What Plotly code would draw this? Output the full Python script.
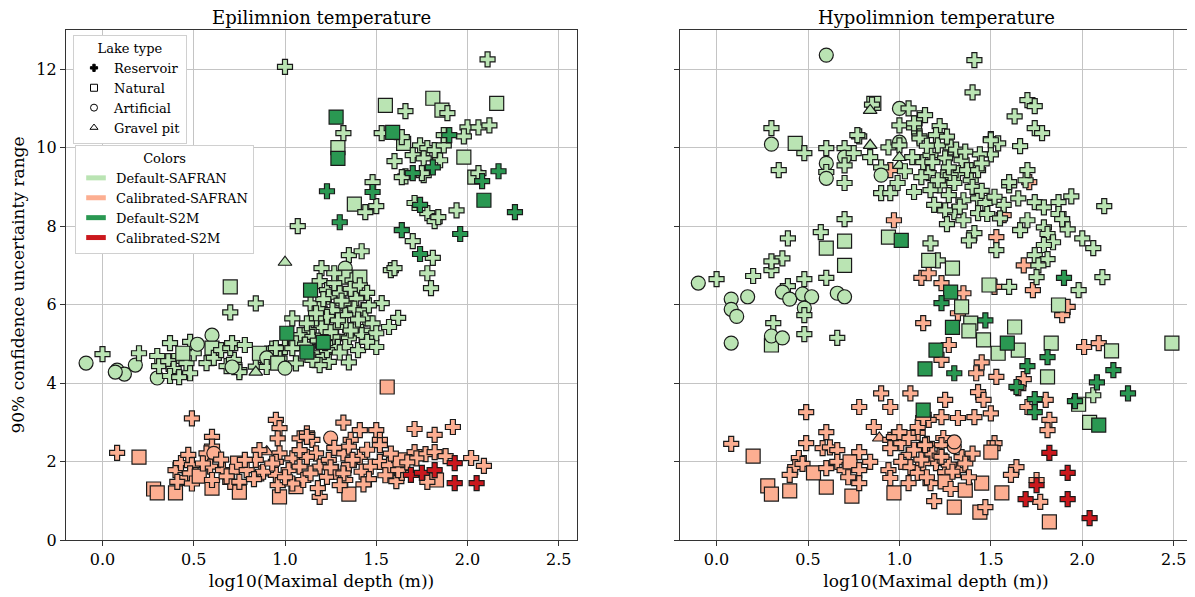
import plotly.graph_objects as go

# ---------------- DATA ----------------
# Lake type codes: R=Reservoir, N=Natural, A=Artificial, G=Gravel pit
lake_types = ["Reservoir", "Natural", "Artificial", "Gravel pit"]
color_groups = ["Default-SAFRAN", "Calibrated-SAFRAN", "Default-S2M", "Calibrated-S2M"]
x_ticks = [0.0, 0.5, 1.0, 1.5, 2.0, 2.5]
y_ticks = [0, 2, 4, 6, 8, 10, 12]

# ---- Epilimnion: Default-SAFRAN ----
epi_dsaf_x = [1.00, 1.32, 1.29, 1.38, 1.07, 1.00, 0.70, 0.84, 0.70, 1.35,
              1.20, 1.33, 1.33, 1.37, 2.11, 1.55, 1.81, 1.86, 1.89, 1.66,
              2.16, 1.53, 1.65, 1.64, 1.74, 1.78, 1.70, 1.76, 1.85, 1.82,
              1.87, 2.00, 2.06, 2.12, 1.98, 1.87, 1.98, 1.60, 1.66, 1.76,
              2.04, 2.06, 1.44, 1.50, 1.48, 1.71, 1.78, 1.82, 1.84, 1.94,
              1.70, 1.81, 1.78, 1.80, 1.58, 1.60, 1.42, 1.41, 1.53, 1.62,
              1.19, 1.57, 1.46, 1.50, 1.35, 1.64, 1.75,
              1.23, 1.24, 1.14, 1.19, 1.30, 1.32, 1.39, 1.38, 1.26, 1.23,
              1.33, 1.43, 1.44, 1.33, 1.28, 1.39, 1.48, 1.42, 1.34, 1.24,
              1.29, 1.20, 1.13, 1.17, 1.08, 1.04, 1.15, 1.21, 1.24, 1.19,
              1.06, 0.97, 0.93, 1.00, 0.88, 0.84, 1.50, 1.06, 1.15, 1.26,
              1.35, 1.23, 1.33, 1.15,
              1.27, 1.36, 1.31, 1.21, 1.17, 1.29, 1.40, 1.36, 1.25, 1.11,
              1.18, 1.30, 1.40, 1.45, 1.12, 1.46, 1.41, 1.27, 1.45, 1.22,
              -0.09, 0.00, 0.08, 0.12, 0.07, 0.18, 0.20, 0.30, 0.30, 0.31,
              0.36, 0.39, 0.42, 0.46, 0.48, 0.50, 0.37, 0.42, 0.37, 0.48,
              0.52, 0.60, 0.60, 0.44, 0.57, 0.61, 0.65, 0.68, 0.72, 0.75,
              0.70, 0.71, 0.78, 0.75, 0.71, 0.86, 0.84, 0.90, 0.90, 0.95,
              0.96, 1.00, 1.04]
epi_dsaf_y = [12.06, 10.37, 10.00, 8.56, 8.00, 7.08, 6.45, 6.03, 5.80, 7.26,
              6.93, 6.93, 6.70, 6.62, 12.25, 11.08, 11.26, 10.96, 10.88, 10.93,
              11.13, 10.37, 10.11, 10.27, 10.06, 9.99, 9.81, 9.73, 9.68, 9.94,
              10.06, 10.52, 10.52, 10.57, 10.29, 10.32, 9.76, 9.66, 9.27, 9.30,
              9.25, 9.35, 8.36, 8.51, 9.12, 8.59, 8.33, 8.13, 8.23, 8.40,
              7.62, 7.19, 6.80, 6.42, 6.88, 6.93, 7.36, 6.70, 6.04, 5.66,
              6.60, 5.43, 5.22, 4.92, 4.53, 9.25, 9.35,
              6.37, 6.20, 6.03, 5.90, 6.29, 6.03, 6.16, 5.90, 5.86, 5.69,
              5.73, 5.86, 5.65, 5.48, 5.43, 5.43, 5.52, 5.22, 5.18, 4.92,
              4.92, 5.43, 5.35, 5.65, 5.22, 5.65, 4.76, 4.67, 4.54, 4.46,
              4.50, 4.63, 4.88, 4.92, 4.59, 4.42, 5.27, 5.01, 5.18, 5.18,
              5.14, 4.84, 4.92, 4.59,
              6.55, 6.40, 6.10, 6.14, 5.78, 5.60, 5.62, 5.34, 5.30, 4.98,
              5.08, 4.78, 4.84, 5.05, 5.52, 5.98, 6.49, 6.80, 6.30, 5.02,
              4.51, 4.74, 4.33, 4.23, 4.28, 4.46, 4.76, 4.13, 4.69, 4.43,
              4.56, 4.36, 4.69, 4.51, 4.25, 4.76, 4.18, 4.15, 5.02, 5.05,
              4.99, 5.22, 4.89, 4.76, 4.51, 4.64, 4.84, 4.43, 4.59, 4.33,
              4.89, 5.02, 4.97, 4.28, 4.41, 4.76, 4.28, 4.64, 4.41, 4.89,
              4.51, 4.38, 4.89]
epi_dsaf_t = list("RRNNRGNRRR" "RANRRNNNRR" "NRNRRRRRRR" "RRRRRRNRRR"
                  "NRRRRRRRRR" "RRRRRRRNRR" "RRNRRRR"
                  "RRRRRRRRRR" "RRRRRRRRRR" "RRRRRRRRRR" "RRRRRRRRRR" "RRRR"
                  "RRRRRRRRRR" "RRRRRRRRRR"
                  "ARAAAARARR" "RRRRRRRRRR" "AANNRRRRRR" "RRRRANGARR" "NAR")

# ---- Epilimnion: Default-S2M ----
epi_ds2m_x = [1.28, 1.29, 1.23, 1.30, 1.14, 1.59, 1.90, 1.81, 1.70, 2.17,
              2.08, 1.48, 1.74, 2.09, 2.26, 1.64, 1.96, 1.74, 1.01, 1.21, 1.12]
epi_ds2m_y = [10.78, 9.73, 8.89, 8.10, 6.37, 10.39, 10.32, 9.50, 9.35, 9.40,
              9.15, 8.87, 8.54, 8.66, 8.36, 7.90, 7.80, 7.29, 5.27, 5.04, 4.79]
epi_ds2m_t = list("NNRRNNRRRR" "RRRNRRRRNNN")

# ---- Epilimnion: Calibrated-SAFRAN ----
epi_csaf_x = [0.08, 0.20, 0.28, 0.30, 0.40, 0.49, 0.40, 0.43, 0.47, 0.49,
              0.51, 0.45, 0.41, 0.48, 0.49, 0.53, 0.60, 0.60, 0.57, 0.61,
              0.60, 0.74, 0.75, 0.95, 0.97, 0.96, 0.97, 0.90, 1.32, 1.06,
              1.25, 1.35, 1.56, 1.41, 1.50, 1.52, 1.52, 1.36, 1.71, 1.82,
              1.92, 1.71, 1.77, 1.82, 1.88, 2.02, 2.09, 1.61, 1.64, 1.83,
              1.78, 1.19, 1.08, 1.12, 1.15, 0.86, 0.84, 0.87, 0.97, 0.95,
              0.95, 0.96, 1.04, 1.02, 1.08, 1.10, 1.17, 1.19, 1.18, 1.24,
              1.23, 1.28, 1.32, 1.35, 1.33, 1.41, 1.42, 1.47, 1.52, 1.57,
              1.62, 1.72, 0.59, 0.60, 0.66, 0.71, 0.70, 0.75, 0.79, 0.78,
              0.88, 0.93, 1.12, 1.12, 1.04, 1.08, 1.32, 1.35, 1.37, 1.63,
              1.27, 1.45, 1.55, 1.46, 1.25, 1.00, 0.65, 0.55, 1.58, 1.67,
              1.14, 1.43, 1.30, 0.83, 0.68]
epi_csaf_y = [2.22, 2.11, 1.30, 1.20, 1.20, 3.10, 1.78, 1.96, 2.17, 1.91,
              1.66, 1.58, 1.48, 1.70, 1.44, 1.63, 2.63, 2.38, 2.21, 2.21,
              1.32, 1.96, 1.22, 3.06, 2.85, 2.59, 1.10, 2.25, 2.99, 1.36,
              2.60, 1.17, 3.90, 2.80, 2.80, 2.55, 2.42, 2.55, 2.83, 2.68,
              2.88, 2.24, 2.19, 2.24, 2.14, 2.09, 1.89, 1.50, 1.71, 1.53,
              1.48, 1.10, 2.59, 2.72, 2.55, 2.29, 2.04, 1.70, 2.21, 1.99,
              1.66, 1.40, 2.08, 1.78, 1.87, 1.53, 2.21, 1.87, 1.32, 2.04,
              1.61, 1.74, 2.21, 1.91, 1.53, 2.12, 1.74, 1.87, 1.99, 1.91,
              1.78, 2.08, 1.87, 1.53, 1.78, 1.74, 1.48, 1.48, 1.78, 2.04,
              1.74, 1.95, 2.12, 2.63, 1.44, 2.29, 1.70, 2.38, 2.04, 2.04,
              2.35, 2.30, 1.65, 1.55, 1.85, 1.60, 2.05, 1.95, 2.20, 1.98,
              1.70, 1.42, 1.40, 1.55, 1.62]
epi_csaf_t = list("RNNNNRRRRR" "RRRRRNRRRA" "NNNRRRNGRN" "ANNRRRRRRR"
                  "RRRRRRRRRN" "RRRRRRRRRR" "RRRRRRRRRR" "RRRRRRRRRR"
                  "RRRRRRRRRR" "RRRRRRRRRN" "RRRRRRRRRR" "RRRRR")

# ---- Epilimnion: Calibrated-S2M ----
epi_cs2m_x = [1.69, 1.75, 1.82, 1.93, 1.93, 2.05]
epi_cs2m_y = [1.66, 1.71, 1.78, 1.96, 1.45, 1.45]
epi_cs2m_t = list("RRRRRR")

# ---- Hypolimnion: Default-SAFRAN ----
hyp_dsaf_x = [0.60, 0.86, 0.85, 0.84, 1.00, 1.05, 1.11, 1.14, 1.00, 1.08,
              1.11, 0.30, 0.30, 0.43, 0.48, 0.34, 0.60, 0.60, 0.60, 0.60,
              0.70, 0.70, 0.70, 0.70, 0.75, 0.78, 0.84, 0.84, 0.94, 1.00,
              1.00, 1.00, 1.00, 0.90, 0.90, 0.99, 0.90, 0.95, 1.08, 1.07,
              1.13, 0.70, 0.57, 0.39, 0.70, 0.60, 0.70, 0.94, 0.36, 0.30,
              0.30, 0.20, 0.00, -0.10, 0.08, 0.08, 0.11, 0.17, 0.48, 0.39,
              0.36, 0.40, 0.47, 0.52, 0.60, 0.66, 0.70, 0.48, 0.48, 0.31,
              0.08, 0.30, 0.30, 0.36, 0.48, 0.66, 1.41, 1.40, 1.70, 1.74,
              1.63, 1.74, 1.78, 1.66, 1.50, 1.54, 1.50, 1.44, 1.22, 1.20,
              1.28, 1.17, 1.25, 1.34, 1.39, 1.16, 1.24, 1.32, 1.39, 1.22,
              1.17, 1.27, 1.35, 1.19, 1.30, 1.35, 1.41, 1.08, 0.77, 1.11,
              1.21, 1.18, 1.37, 1.43, 1.21, 1.28, 1.50, 1.69, 1.60, 1.65,
              1.43, 1.47, 1.43, 1.57, 1.38, 1.66, 1.74, 1.79, 1.79, 1.17,
              1.21, 1.16, 1.29, 1.49, 1.60, 1.34, 1.39, 1.63, 1.70, 1.60,
              1.87, 1.94, 2.12, 1.48, 1.70, 1.81, 1.87, 1.89, 1.92, 1.84,
              1.79, 1.74, 1.81, 1.76, 2.00, 2.06, 1.75, 2.11, 1.98, 1.53,
              1.87, 1.83, 2.16, 2.49, 1.81, 1.46, 1.54, 1.65, 2.06, 1.98,
              2.04, 1.38, 1.26, 1.31, 1.36, 1.15, 1.27, 1.45, 1.30, 1.40,
              1.45, 1.25, 1.33, 1.52, 1.55, 1.26, 1.12, 1.03]
hyp_dsaf_y = [12.36, 11.13, 11.10, 10.95, 11.00, 11.00, 10.75, 10.83, 10.57, 10.52,
              10.29, 10.50, 10.09, 10.11, 9.86, 9.43, 9.99, 9.60, 9.38, 9.22,
              9.99, 9.76, 9.55, 9.10, 9.86, 10.29, 10.06, 9.76, 10.01, 10.14,
              10.06, 9.55, 9.75, 9.50, 9.30, 9.10, 8.84, 8.84, 8.87, 9.76,
              9.63, 8.18, 7.85, 7.69, 7.62, 7.44, 7.00, 7.72, 7.18, 6.88,
              7.10, 6.73, 6.65, 6.55, 6.14, 5.88, 5.70, 6.20, 6.65, 6.47,
              6.32, 6.14, 6.27, 6.20, 6.68, 6.29, 6.20, 5.91, 5.73, 5.53,
              5.02, 4.97, 5.20, 5.15, 5.25, 5.15, 12.23, 11.41, 11.21, 11.06,
              10.80, 10.50, 10.37, 10.04, 10.22, 10.11, 9.83, 9.83, 10.55, 10.32,
              10.01, 9.81, 9.73, 9.68, 9.43, 9.35, 9.25, 9.35, 9.17, 9.04,
              8.92, 8.79, 8.66, 8.54, 8.36, 8.15, 7.82, 10.62, 10.32, 10.24,
              10.06, 9.63, 9.43, 9.43, 9.17, 9.30, 10.19, 9.17, 9.04, 8.71,
              8.71, 8.59, 8.33, 8.54, 7.64, 7.90, 8.61, 8.48, 7.97, 7.56,
              7.13, 7.13, 6.93, 6.50, 6.45, 5.94, 5.53, 5.43, 9.43, 9.12,
              8.61, 8.76, 8.51, 8.31, 8.15, 7.80, 8.31, 8.18, 7.92, 7.59,
              7.52, 7.26, 7.16, 7.00, 7.69, 7.44, 6.70, 6.70, 6.37, 7.39,
              5.99, 5.02, 4.82, 5.02, 4.16, 5.10, 4.76, 4.84, 3.69, 3.46,
              3.00, 5.33, 10.28, 9.95, 9.90, 10.05, 9.50, 9.60, 9.10, 9.00,
              8.90, 8.40, 8.50, 8.75, 8.20, 8.05, 9.25, 9.40]
hyp_dsaf_t = list("ANRGARRRRR" "RRANRRRARA" "RARRRRGRRA" "RGGRARRRRR"
                  "RRRRNNNNRR" "RRRAAAAARR" "AAAARAAARR" "ANAARRRRRR"
                  "RRRRRRRRRR" "RRRRRRRRRR" "RRRRRRRRRR" "RRRRRRRRRR"
                  "RRRRRRRRRR" "RNNNRNNNRR" "RRRRRRRRRR" "RRRRRRRRRR"
                  "NNNNNNNNRN" "NNRRRRRRRR" "RRRRRRRR")

# ---- Hypolimnion: Default-S2M ----
hyp_ds2m_x = [1.01, 1.28, 1.23, 1.47, 1.29, 1.20, 1.14, 1.59, 1.81, 1.70,
              1.30, 2.17, 2.08, 1.64, 2.25, 1.74, 1.74, 1.96, 2.09, 1.13, 1.90]
hyp_ds2m_y = [7.64, 6.32, 6.04, 5.60, 5.42, 4.84, 4.36, 5.02, 4.66, 4.43,
              4.25, 4.33, 4.02, 3.90, 3.74, 3.59, 3.26, 3.54, 2.93, 3.31, 6.68]
hyp_ds2m_t = list("NNRRNNNNRR" "RRRRRRRRNNR")

# ---- Hypolimnion: Calibrated-SAFRAN ----
hyp_csaf_x = [0.95, 1.71, 1.57, 0.97, 1.53, 1.68, 1.73, 1.12, 1.16, 1.23,
              1.35, 1.52, 1.32, 1.13, 1.92, 1.89, 2.01, 2.09, 1.27, 1.23,
              1.45, 1.42, 1.53, 1.68, 1.65, 1.70, 1.80, 1.82, 1.81, 1.43,
              1.46, 1.25, 1.50, 1.41, 1.32, 1.23, 1.16, 1.24, 1.23, 1.34,
              1.30, 1.30, 1.20, 1.52, 1.51, 1.50, 1.25, 1.32, 1.17, 1.25,
              1.36, 1.45, 1.56, 1.30, 1.19, 1.44, 1.47, 1.64, 1.61, 1.75,
              1.77, 1.82, 0.08, 0.20, 0.28, 0.30, 0.40, 0.49, 0.49, 0.45,
              0.43, 0.40, 0.47, 0.53, 0.60, 0.58, 0.62, 0.60, 0.60, 0.66,
              0.66, 0.70, 0.72, 0.73, 0.74, 0.78, 0.78, 0.78, 0.78, 0.84,
              0.86, 0.90, 0.95, 1.06, 0.89, 0.95, 0.97, 0.95, 1.01, 1.05,
              1.01, 0.94, 0.95, 1.06, 1.10, 1.10, 1.13, 1.10, 1.13, 0.97,
              1.05, 1.08, 1.15, 1.18, 1.12, 1.22, 1.27, 1.15, 1.05, 1.36,
              1.40, 1.38, 1.28, 1.00, 1.14, 1.23, 1.29]
hyp_csaf_y = [9.43, 9.12, 8.28, 8.15, 7.72, 7.00, 6.37, 6.68, 6.80, 6.55,
              6.29, 6.45, 5.78, 5.53, 5.94, 5.73, 4.92, 5.02, 4.97, 4.59,
              4.53, 4.25, 4.16, 4.10, 3.87, 3.39, 3.57, 3.06, 2.80, 3.77,
              3.57, 3.57, 3.23, 3.13, 3.11, 3.13, 3.06, 2.60, 2.42, 2.11,
              2.38, 2.50, 1.96, 2.47, 2.34, 2.24, 1.73, 1.78, 1.45, 1.48,
              1.27, 1.45, 1.20, 0.84, 0.99, 0.71, 0.84, 1.86, 1.66, 1.53,
              0.97, 0.46, 2.45, 2.14, 1.38, 1.17, 1.25, 3.26, 2.47, 2.09,
              1.86, 1.66, 1.94, 1.71, 2.75, 2.34, 2.36, 1.83, 1.35, 2.29,
              1.99, 1.78, 1.60, 1.99, 1.12, 3.39, 2.24, 1.78, 1.45, 1.99,
              2.88, 3.74, 3.39, 3.74, 2.60, 2.55, 2.62, 2.34, 2.47, 2.17,
              1.99, 1.78, 1.58, 1.86, 2.73, 2.88, 3.11, 1.71, 1.96, 1.20,
              2.60, 2.30, 2.45, 2.20, 2.05, 2.15, 1.92, 1.60, 1.45, 1.95,
              2.20, 1.60, 1.30, 2.75, 2.42, 2.12, 1.74]
hyp_csaf_t = list("RRRRRRRRRR" "RRRRRRRRRR" "RRRRRRRRRR" "RRRRRRRRRR"
                  "AARRRNRRRN" "NNNNRNRRRR" "RNRNNNNRRR" "RRRNRRRRNR"
                  "RRRNNRRRRR" "RRRRGRRRRR" "RRRRRRRRRN" "RRRRRRRRRR"
                  "RRRRRRR")

# ---- Hypolimnion: Calibrated-S2M ----
hyp_cs2m_x = [1.82, 1.92, 1.75, 1.69, 1.92, 2.04]
hyp_cs2m_y = [2.22, 1.71, 1.40, 1.04, 1.04, 0.56]
hyp_cs2m_t = list("RRRRRR")

# ---------------- STYLE ----------------
COLORS = {"Default-SAFRAN": "#bae4b3", "Calibrated-SAFRAN": "#fcae91",
          "Default-S2M": "#2a9852", "Calibrated-S2M": "#cb181d"}
SYMBOL = {"R": "cross", "N": "square", "A": "circle", "G": "triangle-up"}
SIZE = {"R": 12.5, "N": 14, "A": 14, "G": 12}
FONT = "DejaVu Serif"

fig = go.Figure()


def add_group(xs, ys, ts, group, xa, ya):
    fig.add_trace(go.Scatter(
        x=xs, y=ys, mode="markers", xaxis=xa, yaxis=ya, showlegend=False,
        hoverinfo="skip",
        marker=dict(color=COLORS[group], symbol=[SYMBOL[t] for t in ts],
                    size=[SIZE[t] for t in ts], opacity=1,
                    line=dict(color="#1a1a1a", width=1.2))))


# draw order: calibrated SAFRAN, default SAFRAN, calibrated S2M, default S2M
add_group(epi_csaf_x, epi_csaf_y, epi_csaf_t, "Calibrated-SAFRAN", "x", "y")
add_group(epi_dsaf_x, epi_dsaf_y, epi_dsaf_t, "Default-SAFRAN", "x", "y")
add_group(epi_cs2m_x, epi_cs2m_y, epi_cs2m_t, "Calibrated-S2M", "x", "y")
add_group(epi_ds2m_x, epi_ds2m_y, epi_ds2m_t, "Default-S2M", "x", "y")
add_group(hyp_csaf_x, hyp_csaf_y, hyp_csaf_t, "Calibrated-SAFRAN", "x2", "y2")
add_group(hyp_dsaf_x, hyp_dsaf_y, hyp_dsaf_t, "Default-SAFRAN", "x2", "y2")
add_group(hyp_cs2m_x, hyp_cs2m_y, hyp_cs2m_t, "Calibrated-S2M", "x2", "y2")
add_group(hyp_ds2m_x, hyp_ds2m_y, hyp_ds2m_t, "Default-S2M", "x2", "y2")

# legend entries: lake types
for name, code in zip(lake_types, ["R", "N", "A", "G"]):
    sym = SYMBOL[code] if code == "R" else SYMBOL[code] + "-open"
    fig.add_trace(go.Scatter(
        x=[None], y=[None], mode="markers", name=name, legend="legend",
        marker=dict(symbol=sym, size=6 if code == "R" else 7, color="black",
                    line=dict(color="black", width=1))))
# legend entries: colours
for name in color_groups:
    fig.add_trace(go.Scatter(
        x=[None], y=[None], mode="markers", name=name, legend="legend2",
        marker=dict(symbol="line-ew", size=14,
                    line=dict(color=COLORS[name], width=6))))

axis_common = dict(range=[-0.2, 2.6], tickvals=x_ticks,
                   ticktext=[f"{v:.1f}" for v in x_ticks],
                   showgrid=True, gridcolor="#c4c4c4", gridwidth=1,
                   showline=True, linecolor="#333333", linewidth=1.2, mirror=True,
                   ticks="outside", ticklen=5, tickcolor="#333333",
                   tickfont=dict(family=FONT, size=16, color="black"),
                   zeroline=False,
                   title=dict(text="log10(Maximal depth (m))",
                              font=dict(family=FONT, size=17, color="black"),
                              standoff=6))
yaxis_common = dict(range=[0, 13], tickvals=y_ticks,
                    showgrid=True, gridcolor="#c4c4c4", gridwidth=1,
                    showline=True, linecolor="#333333", linewidth=1.2, mirror=True,
                    ticks="outside", ticklen=5, tickcolor="#333333",
                    tickfont=dict(family=FONT, size=16, color="black"),
                    zeroline=False)

# page has an 8px body margin: figure placed at (8, 8) in the window
OFF = 8
W, H = 1195 - OFF, 597 - OFF
ml, mt = 66 - OFF, 30 - OFF
mr = W - (1192 - OFF)
mb = H - (540 - OFF)
pw, ph = W - ml - mr, H - mt - mb


def px_x(p):
    return (p - OFF - ml) / pw


def px_y(p):
    return (H - mb - (p - OFF)) / ph


fig.update_layout(
    width=W, height=H,
    margin=dict(l=ml, r=mr, t=mt, b=mb),
    paper_bgcolor="white", plot_bgcolor="white",
    font=dict(family=FONT, color="black"),
    xaxis=dict(domain=[0, px_x(577)], anchor="y", **axis_common),
    xaxis2=dict(domain=[px_x(680), 1.0], anchor="y2", **axis_common),
    yaxis=dict(domain=[0, 1], anchor="x",
               title=dict(text="90% confidence uncertainty range",
                          font=dict(family=FONT, size=17, color="black"),
                          standoff=8),
               **yaxis_common),
    yaxis2=dict(domain=[0, 1], anchor="x2", showticklabels=False, **yaxis_common),
    legend=dict(x=px_x(73), y=px_y(35), xanchor="left", yanchor="top",
                bgcolor="white", bordercolor="#d0d0d0", borderwidth=1,
                font=dict(family=FONT, size=13, color="black"),
                title=dict(text="Lake type", side="top center",
                           font=dict(family=FONT, size=13, color="black")),
                tracegroupgap=0, itemclick=False),
    legend2=dict(x=px_x(75), y=px_y(145), xanchor="left", yanchor="top",
                 bgcolor="white", bordercolor="#d0d0d0", borderwidth=1,
                 font=dict(family=FONT, size=13, color="black"),
                 title=dict(text="Colors", side="top center",
                            font=dict(family=FONT, size=13, color="black")),
                 tracegroupgap=0, itemclick=False),
    annotations=[
        dict(text="Epilimnion temperature", xref="paper", yref="paper",
             x=px_x(321.5), y=px_y(17), xanchor="center", yanchor="middle",
             showarrow=False, font=dict(family=FONT, size=18, color="black")),
        dict(text="Hypolimnion temperature", xref="paper", yref="paper",
             x=px_x(936), y=px_y(17), xanchor="center", yanchor="middle",
             showarrow=False, font=dict(family=FONT, size=18, color="black")),
    ],
)

fig.write_html("out.html")
